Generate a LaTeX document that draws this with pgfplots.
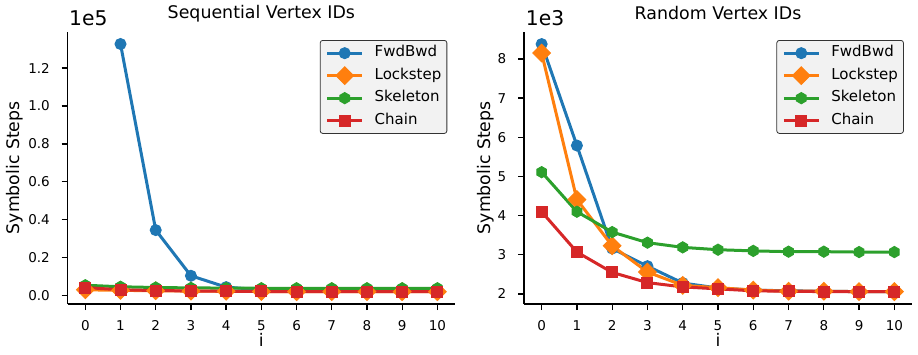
\documentclass[border=0pt]{standalone}
\usepackage{fontspec}
\setmainfont{DejaVu Sans}
\usepackage{pgfplots}
\pgfplotsset{compat=1.18}
\definecolor{cblue}{HTML}{1F77B4}
\definecolor{corange}{HTML}{FF7F0E}
\definecolor{cgreen}{HTML}{2CA02C}
\definecolor{cred}{HTML}{D62728}
\pgfdeclareplotmark{Dia*}{%
  \pgfpathmoveto{\pgfqpoint{0pt}{\pgfplotmarksize}}%
  \pgfpathlineto{\pgfqpoint{\pgfplotmarksize}{0pt}}%
  \pgfpathlineto{\pgfqpoint{0pt}{-\pgfplotmarksize}}%
  \pgfpathlineto{\pgfqpoint{-\pgfplotmarksize}{0pt}}%
  \pgfpathclose\pgfusepathqfillstroke}
\pgfdeclareplotmark{hex*}{%
  \pgfpathmoveto{\pgfqpoint{0pt}{\pgfplotmarksize}}%
  \pgfpathlineto{\pgfqpoint{-0.866\pgfplotmarksize}{0.5\pgfplotmarksize}}%
  \pgfpathlineto{\pgfqpoint{-0.866\pgfplotmarksize}{-0.5\pgfplotmarksize}}%
  \pgfpathlineto{\pgfqpoint{0pt}{-\pgfplotmarksize}}%
  \pgfpathlineto{\pgfqpoint{0.866\pgfplotmarksize}{-0.5\pgfplotmarksize}}%
  \pgfpathlineto{\pgfqpoint{0.866\pgfplotmarksize}{0.5\pgfplotmarksize}}%
  \pgfpathclose\pgfusepathqfillstroke}
\pgfplotsset{
  every axis title shift=0pt,
  myax/.style={
    width=387.3pt, height=272.3pt, scale only axis,
    anchor=south west, clip=false,
    xmin=-0.5, xmax=10.5, xtick={0,...,10},
    axis x line*=bottom, axis y line*=left,
    x axis line style={-}, y axis line style={-},
    axis line style={line width=1.3pt, black},
    tick style={line width=1.3pt, black},
    major tick length=6pt, tick align=outside,
    /pgf/number format/assume math mode=true,
    ticklabel style={font=\fontsize{13.5}{16}\selectfont},
    xticklabel style={anchor=north, inner sep=0pt, yshift=-10pt},
    yticklabel style={anchor=east, inner sep=0pt, xshift=-11.7pt},
    label style={font=\fontsize{17.3}{20}\selectfont},
    xlabel={i},
    xlabel style={at={(axis description cs:0.5,-0.132)}, anchor=center},
    ylabel={Symbolic Steps},
    title style={font=\fontsize{17.4}{20}\selectfont, at={(0.5,1)}, anchor=base, yshift=12.7pt},
    legend cell align=left,
    legend style={anchor=north east, draw=black!80, fill=black!5,
      rounded corners=2.5pt, line width=0.8pt, inner xsep=5.5pt, inner ysep=1.5pt,
      row sep=0pt, column sep=11pt, font=\fontsize{15}{18}\selectfont,
      nodes={inner xsep=0pt, inner ysep=4pt, text height=11pt, text depth=3.5pt}},
    legend image code/.code={\draw[mark repeat=2, mark phase=2, #1] plot coordinates {(0pt,0pt) (17.5pt,0pt) (35pt,0pt)};},
  },
  sFwd/.style={color=cblue, line width=3pt, mark=*, mark size=5.5pt, mark options={solid, line width=1pt, fill=cblue}},
  sLock/.style={color=corange, line width=3pt, mark=Dia*, mark size=8.8pt, mark options={solid, line width=1pt, fill=corange}},
  sSkel/.style={color=cgreen, line width=3pt, mark=hex*, mark size=5.6pt, mark options={solid, line width=1pt, fill=cgreen}},
  sChain/.style={color=cred, line width=3pt, mark=square*, mark size=5.5pt, mark options={solid, line width=1pt, fill=cred}},
}
\begin{document}
\begin{tikzpicture}
\useasboundingbox (0pt,0pt) rectangle (918pt,354pt);
\begin{axis}[myax, at={(67.7pt,50pt)},
  ymin=-4500, ymax=139200,
  ytick={0,20000,40000,60000,80000,100000,120000},
  yticklabels={0.0,0.2,0.4,0.6,0.8,1.0,1.2},
  scaled y ticks=false,
  ylabel style={at={(axis description cs:-0.137,0.5)}, anchor=center},
  title={Sequential Vertex IDs},
  legend style={at={(axis description cs:0.98,0.9695)}},
]
\addplot[sFwd] coordinates {(1,132700) (2,34500) (3,10400) (4,4400) (5,3000) (6,2500) (7,2300) (8,2200) (9,2100) (10,2100)};
\addlegendentry{FwdBwd}
\addplot[sLock] coordinates {(0,3000) (1,2700) (2,2500) (3,2300) (4,2200) (5,2100) (6,2000) (7,2000) (8,2000) (9,2000) (10,2000)};
\addlegendentry{Lockstep}
\addplot[sSkel] coordinates {(0,5400) (1,4600) (2,4200) (3,4000) (4,3900) (5,3800) (6,3800) (7,3800) (8,3800) (9,3800) (10,3800)};
\addlegendentry{Skeleton}
\addplot[sChain] coordinates {(0,4200) (1,3000) (2,2600) (3,2400) (4,2200) (5,2100) (6,2000) (7,2000) (8,2000) (9,2000) (10,2000)};
\addlegendentry{Chain}
\node[anchor=base west, inner sep=0pt, font=\fontsize{20.3}{24}\selectfont, xshift=1.3pt, yshift=6pt] at (axis description cs:0,1) {1e5};
\end{axis}
\begin{axis}[myax, at={(524pt,50pt)}, width=388pt,
  ymin=1744, ymax=8696,
  ytick={2000,3000,4000,5000,6000,7000,8000},
  yticklabels={2,3,4,5,6,7,8},
  scaled y ticks=false,
  ylabel style={at={(axis description cs:-0.098,0.5)}, anchor=center},
  title={Random Vertex IDs},
  legend style={at={(axis description cs:0.979,0.9695)}},
]
\addplot[sFwd] coordinates {(0,8380) (1,5790) (2,3160) (3,2710) (4,2280) (5,2150) (6,2100) (7,2080) (8,2070) (9,2060) (10,2060)};
\addlegendentry{FwdBwd}
\addplot[sLock] coordinates {(0,8150) (1,4410) (2,3230) (3,2560) (4,2220) (5,2160) (6,2100) (7,2070) (8,2070) (9,2060) (10,2060)};
\addlegendentry{Lockstep}
\addplot[sSkel] coordinates {(0,5110) (1,4100) (2,3580) (3,3310) (4,3190) (5,3130) (6,3100) (7,3080) (8,3080) (9,3070) (10,3070)};
\addlegendentry{Skeleton}
\addplot[sChain] coordinates {(0,4100) (1,3070) (2,2550) (3,2290) (4,2180) (5,2130) (6,2080) (7,2070) (8,2060) (9,2060) (10,2060)};
\addlegendentry{Chain}
\node[anchor=base west, inner sep=0pt, font=\fontsize{20.3}{24}\selectfont, xshift=1.7pt, yshift=6pt] at (axis description cs:0,1) {1e3};
\end{axis}
\end{tikzpicture}
\end{document}
